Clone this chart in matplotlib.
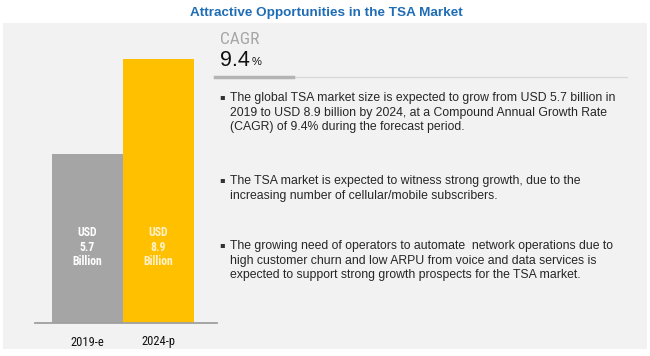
import matplotlib.pyplot as plt
import matplotlib.patches as mpatches
from matplotlib.lines import Line2D
from matplotlib import font_manager

# data
years = ["2019-e", "2024-p"]
market_size = [5.7, 8.9]  # USD billion
bar_colors = ["#a5a5a5", "#ffc000"]
label_colors = ["#ffffff", "#fff2cc"]
cagr = 9.4
title = "Attractive Opportunities in the TSA Market"
bullets = [
    "The global TSA market size is expected to grow from USD 5.7 billion in\n"
    "2019 to USD 8.9 billion by 2024, at a Compound Annual Growth Rate\n"
    "(CAGR) of 9.4% during the forecast period.",
    "The TSA market is expected to witness strong growth, due to the\n"
    "increasing number of cellular/mobile subscribers.",
    "The growing need of operators to automate  network operations due to\n"
    "high customer churn and low ARPU from voice and data services is\n"
    "expected to support strong growth prospects for the TSA market.",
]
bullet_y = [92, 175, 240]  # top of each paragraph in px

W, H = 650, 356
installed = {f.name for f in font_manager.fontManager.ttflist}
narrow = [f for f in ["Liberation Sans Narrow", "Roboto Condensed", "Liberation Sans"] if f in installed] + ["DejaVu Sans"]
sans = ["Liberation Sans", "DejaVu Sans"]

fig = plt.figure(figsize=(W / 100, H / 100), dpi=100)
fig.patch.set_facecolor("white")

def fx(x):
    return x / W

def fy(y):
    return 1 - y / H

# grey panel
fig.patches.append(mpatches.Rectangle((fx(3), fy(349)), fx(644), (349 - 23) / H,
                                      transform=fig.transFigure, facecolor="#f2f2f2",
                                      edgecolor="none", zorder=-5))

fig.text(fx(326), fy(13), title, ha="center", va="center", fontsize=9.7,
         fontweight="bold", color="#1f6db5", family=sans)

# bar axes: baseline at y=323px, tallest bar top at 59px
base_px, top_px, ax_top_px = 323, 59, 30
ymax = max(market_size) * (base_px - ax_top_px) / (base_px - top_px)
ax_left, ax_right = 35, 217
ax = fig.add_axes([fx(ax_left), fy(base_px), (ax_right - ax_left) / W, (base_px - ax_top_px) / H])
ax.set_zorder(2)
ax.set_facecolor("none")
bar_w = 71
xs = range(len(years))
ax.bar(xs, market_size, width=1.0, color=bar_colors, zorder=2)
ax.set_xlim(-(87.5 - ax_left) / bar_w, 1 + (ax_right - 158.5) / bar_w)
ax.set_ylim(0, ymax)
for sp in ["left", "right", "top"]:
    ax.spines[sp].set_visible(False)
ax.spines["bottom"].set_color("#a0a0a0")
ax.spines["bottom"].set_linewidth(1.3)
ax.set_yticks([])
ax.set_xticks(list(xs))
ax.set_xticklabels(years, fontsize=9, family=narrow, color="#111111")
ax.tick_params(axis="x", length=0, pad=9)
for i, v in enumerate(market_size):
    ax.text(i, 2.55, f"USD\n{v}\nBillion", ha="center", va="center", fontsize=8.5,
            fontweight="bold", family=narrow, color=label_colors[i], linespacing=1.15)

# CAGR block
fig.text(fx(220), fy(40), "CAGR", ha="left", va="center", fontsize=12.5,
         color="#a6a6a6", family=narrow)
t = fig.text(fx(220), fy(60), f"{cagr}", ha="left", va="center", fontsize=15.5,
             color="#111111", family=sans)
fig.canvas.draw()
bb = t.get_window_extent()
fig.text(bb.x1 / W + 0.002, fy(62), "%", ha="left", va="center", fontsize=8,
         color="#111111", family=sans)
fig.add_artist(Line2D([fx(293), fx(627)], [fy(77), fy(77)], color="#d9d9d9", lw=1.0))
fig.add_artist(Line2D([fx(215), fx(293)], [fy(77), fy(77)], color="#b4b4b4", lw=2.5))

for txt, y in zip(bullets, bullet_y):
    fig.text(fx(219), fy(y + 5), "\u25aa", ha="left", va="center", fontsize=6,
             color="#333333", family=["DejaVu Sans"])
    fig.text(fx(230), fy(y), txt, ha="left", va="top", fontsize=8.8,
             color="#262626", family=sans, linespacing=1.3)

fig.savefig("out.png", dpi=100)
